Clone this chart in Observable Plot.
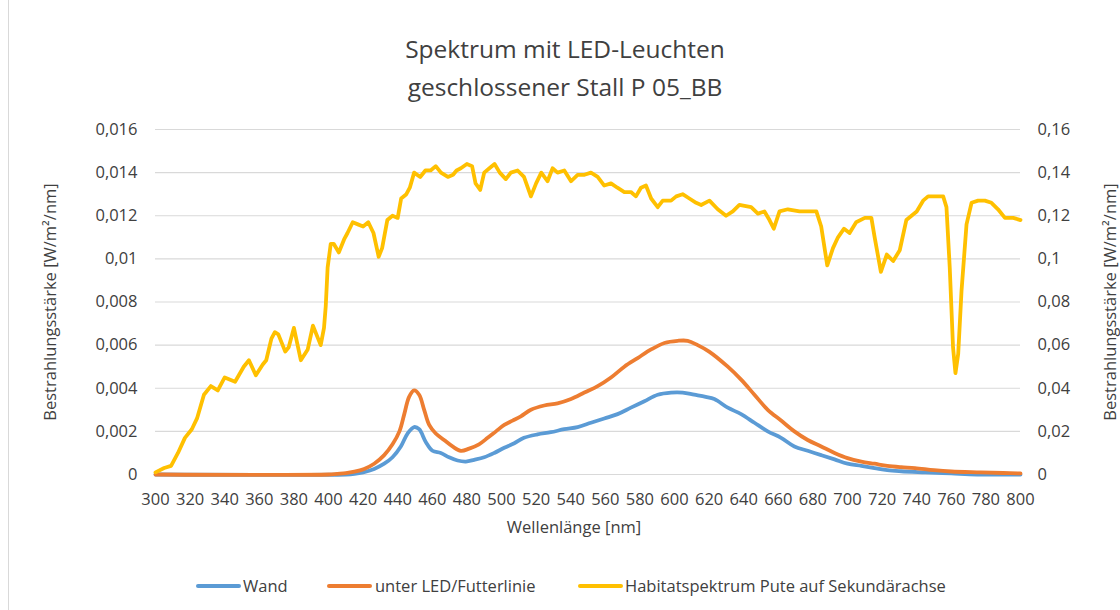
<!DOCTYPE html>
<html>
<head>
<meta charset="utf-8">
<script src="https://cdn.jsdelivr.net/npm/d3@7"></script>
<script src="https://cdn.jsdelivr.net/npm/@observablehq/plot@0.6"></script>
<style>
  html, body { margin: 0; padding: 0; background: #fff; }
  #wrap { position: relative; width: 1120px; height: 610px; overflow: hidden; font-family: "Open Sans", sans-serif; color: #404040; }
  #border { position: absolute; left: 8px; top: -2px; width: 1200px; height: 640px; border: 1px solid #D9D9D9; box-sizing: border-box; }
  #title { position: absolute; left: 0; top: 30px; width: 1130px; text-align: center; font-size: 24.5px; line-height: 38px; }
  #chart { position: absolute; left: 0; top: 110px; }
  .lg { position: absolute; top: 574px; font-size: 16.5px; line-height: 24px; white-space: nowrap; }
  .sw { position: absolute; top: 584px; height: 4px; width: 45px; border-radius: 2px; }
</style>
</head>
<body>
<div id="wrap">
  <div id="border"></div>
  <div id="title">Spektrum mit LED-Leuchten<br>geschlossener Stall P 05_BB</div>
  <div id="chart"></div>
  <div class="sw" style="left:196px;background:#5B9BD5"></div>
  <div class="lg" style="left:243px">Wand</div>
  <div class="sw" style="left:327px;background:#ED7D31"></div>
  <div class="lg" style="left:375px">unter LED/Futterlinie</div>
  <div class="sw" style="left:578px;background:#FFC000"></div>
  <div class="lg" style="left:625px">Habitatspektrum Pute auf Sekundärachse</div>
</div>
<script>
// ---- data ----
const xTicks = [300,320,340,360,380,400,420,440,460,480,500,520,540,560,580,600,620,640,660,680,700,720,740,760,780,800];
const yTicks = [0,0.002,0.004,0.006,0.008,0.01,0.012,0.014,0.016];
const seriesNames = ["Wand", "unter LED/Futterlinie", "Habitatspektrum Pute auf Sekundärachse"];

// Habitatspektrum (secondary axis values)
const habitatNm = [300,305,309,313,317,321,324,328,332,336,340,346,351,354,358,362,364,367,369,371,375,377,380,384,388,391,395.5,397.4,398.4,399.5,401.3,403,406,409,411,414,417,420,423,426,429,431,434,437,440,442,445,447,449.5,453,456,459,462,465,469,472,474,476.5,480,483,485,487.7,490,493,496,499,502.5,505.4,509.3,513,517,520,523,526.6,529.5,532.4,536.3,540.2,544,548,551.7,555.6,559.4,563.3,567,571,574.8,577.7,580.6,583.5,586.5,590.3,593.2,598,601,604.7,608.6,612.5,615.4,620.2,625,629.8,633.7,637.5,644.3,648.2,652,654.9,657.4,660.7,665.5,672.3,677,682,684.8,688.3,691.6,694.5,698,701.2,705,710,713.8,715.7,719.3,722.7,726.4,730.2,734,737,740,743.7,746.6,750.5,755.3,757.2,759.1,761,762.4,764,765.9,768.8,771.7,775.5,779.4,783.2,787,791,795.8,800];
const habitatVal = [0.001,0.003,0.004,0.010,0.017,0.021,0.026,0.037,0.041,0.039,0.045,0.043,0.050,0.053,0.046,0.051,0.053,0.063,0.066,0.065,0.057,0.059,0.068,0.053,0.058,0.069,0.060,0.068,0.078,0.096,0.107,0.107,0.103,0.109,0.112,0.117,0.116,0.115,0.117,0.112,0.101,0.105,0.118,0.120,0.119,0.128,0.130,0.133,0.140,0.138,0.141,0.141,0.143,0.140,0.138,0.139,0.141,0.142,0.144,0.143,0.135,0.132,0.140,0.142,0.144,0.140,0.137,0.140,0.141,0.138,0.129,0.135,0.140,0.136,0.142,0.140,0.141,0.136,0.139,0.139,0.140,0.138,0.134,0.135,0.133,0.131,0.131,0.129,0.133,0.134,0.128,0.124,0.127,0.127,0.129,0.130,0.128,0.126,0.125,0.127,0.123,0.120,0.122,0.125,0.124,0.121,0.122,0.118,0.114,0.122,0.123,0.122,0.122,0.122,0.115,0.097,0.105,0.110,0.114,0.112,0.117,0.119,0.119,0.110,0.094,0.102,0.099,0.104,0.118,0.120,0.122,0.127,0.129,0.129,0.129,0.124,0.096,0.059,0.047,0.056,0.085,0.116,0.126,0.127,0.127,0.126,0.123,0.119,0.119,0.118];

// unter LED/Futterlinie (primary axis)
const futterNm = [300,400,405,410,415,420.6,426.4,432.2,437,441,443.8,446.6,449.5,452.4,455.3,458.2,462,466.8,471.7,476.5,481.3,487,492,496.8,501.6,506.4,511.2,517,524.7,532.4,540.2,547.9,555.6,563.3,571,578.7,586.5,594.2,601.8,607.6,613.4,620,630.8,638.5,646.2,653.9,661.6,669.3,677,684.8,692.5,700,708,715.6,723,731,739,750,760,777,790,800];
const futterVal = [0,0,0.00003,0.00006,0.00013,0.00026,0.0005,0.0009,0.0014,0.0020,0.0028,0.0036,0.0039,0.0037,0.0030,0.0023,0.0019,0.0016,0.0013,0.0011,0.0012,0.0014,0.0017,0.0020,0.0023,0.0025,0.0027,0.0030,0.0032,0.0033,0.0035,0.0038,0.0041,0.0045,0.0050,0.0054,0.0058,0.0061,0.0062,0.0062,0.0060,0.0057,0.0050,0.0044,0.0037,0.0030,0.0025,0.0020,0.0016,0.0013,0.0010,0.00076,0.0006,0.0005,0.0004,0.00034,0.0003,0.0002,0.00014,0.0001,0.00007,0.00005];

// Wand (primary axis)
const wandNm = [300,410,415,420,426.4,432.2,437,441.8,445.7,449.5,452.4,456.3,460.1,464.9,469.7,474.6,479.4,484.2,490,495.8,501.6,507.4,513,520.8,528.5,536.3,544,551.7,559.4,567.1,574.8,582.6,590.3,598,604.7,611.4,618,623,630.8,638.5,646.2,653.9,661.6,669.3,677,684.8,692.5,700,708,715.6,723,731,745,760,775,800];
const wandVal = [0,0,0.00003,0.0001,0.00026,0.0005,0.0008,0.0013,0.0019,0.0022,0.0021,0.0015,0.0011,0.0010,0.0008,0.00065,0.0006,0.00068,0.0008,0.0010,0.00124,0.00145,0.0017,0.00186,0.00196,0.0021,0.0022,0.0024,0.0026,0.0028,0.0031,0.0034,0.0037,0.0038,0.0038,0.0037,0.0036,0.0035,0.0031,0.0028,0.0024,0.0020,0.0017,0.0013,0.0011,0.0009,0.0007,0.0005,0.0004,0.0003,0.0002,0.00015,0.0001,0.00005,0,0];

// ---- build ----
const fmt = d => String(+(+d).toFixed(4)).replace(".", ",");
const habitat = habitatNm.map((x, i) => ({x, y: habitatVal[i] / 10}));
const futter = futterNm.map((x, i) => ({x, y: futterVal[i]}));
const wand = wandNm.map((x, i) => ({x, y: wandVal[i]}));

const chart = Plot.plot({
  width: 1120,
  height: 440,
  marginTop: 19,
  marginBottom: 76,
  marginLeft: 155,
  marginRight: 100,
  style: {fontFamily: "Open Sans, sans-serif", fontSize: "16.5px", color: "#404040", background: "transparent", overflow: "visible"},
  x: {domain: [300, 800]},
  y: {domain: [0, 0.016]},
  marks: [
    Plot.gridY(yTicks, {stroke: "#D9D9D9", strokeOpacity: 1, strokeWidth: 1.2}),
    Plot.axisX(xTicks, {tickSize: 0, tickPadding: 19, tickFormat: d => String(d), label: null}),
    Plot.axisY(yTicks, {anchor: "left", tickSize: 0, tickPadding: 18, tickFormat: fmt, label: null}),
    Plot.axisY(yTicks, {anchor: "right", tickSize: 0, tickPadding: 17, tickFormat: d => fmt(d * 10), label: null}),
    Plot.line(wand, {x: "x", y: "y", stroke: "#5B9BD5", strokeWidth: 3.8, curve: "catmull-rom"}),
    Plot.line(futter, {x: "x", y: "y", stroke: "#ED7D31", strokeWidth: 3.8, curve: "catmull-rom"}),
    Plot.line(habitat, {x: "x", y: "y", stroke: "#FFC000", strokeWidth: 3.8, curve: "linear", strokeLinejoin: "round"}),
    Plot.text(["Bestrahlungsstärke [W/m²/nm]"], {frameAnchor: "left", textAnchor: "middle", lineAnchor: "middle", dx: -105, rotate: -90, fontSize: 16.5, fill: "#404040"}),
    Plot.text(["Bestrahlungsstärke [W/m²/nm]"], {frameAnchor: "right", textAnchor: "middle", lineAnchor: "middle", dx: 90, rotate: -90, fontSize: 16.5, fill: "#404040"}),
    Plot.text(["Wellenlänge [nm]"], {frameAnchor: "bottom", textAnchor: "middle", dy: 58, dx: -14, fontSize: 16.5, fill: "#404040"})
  ]
});
document.getElementById("chart").appendChild(chart);
</script>
</body>
</html>
